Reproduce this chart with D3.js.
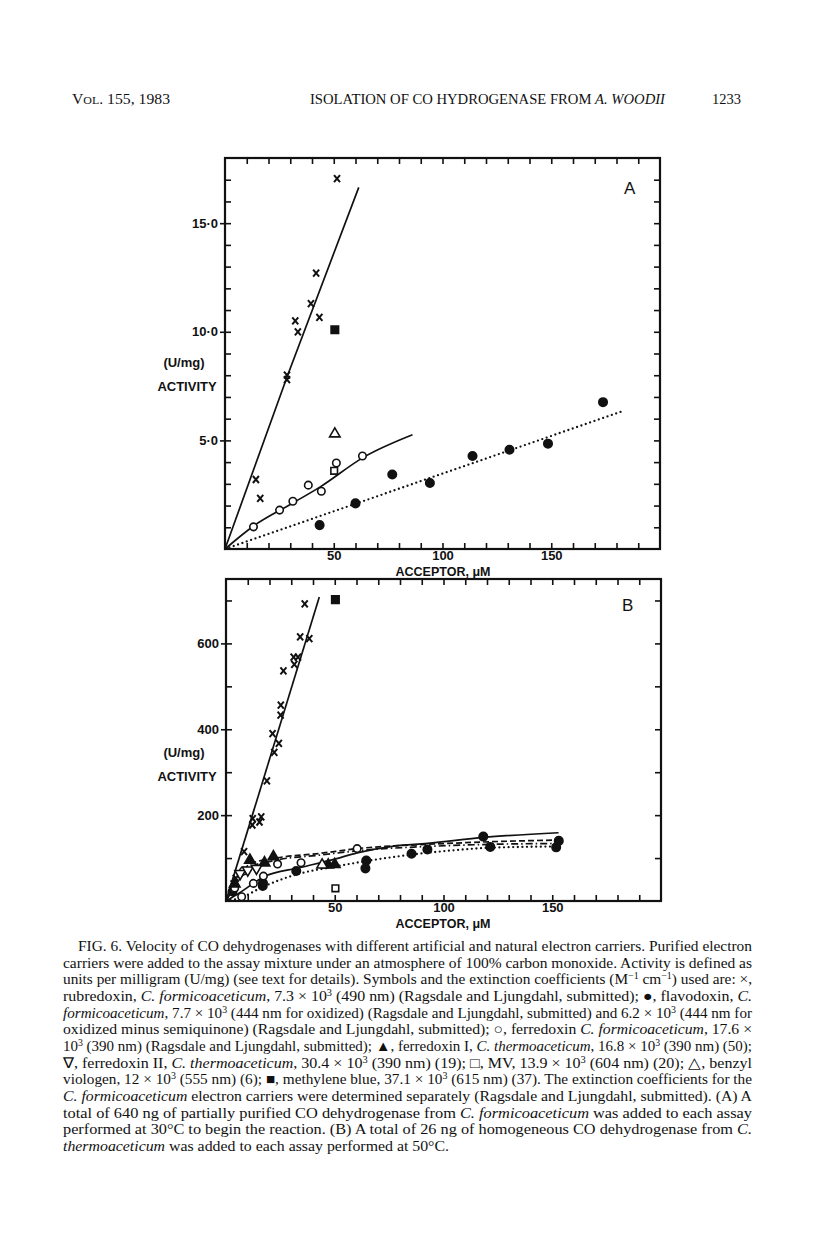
<!DOCTYPE html>
<html>
<head>
<meta charset="utf-8">
<script src="https://cdn.jsdelivr.net/npm/d3@7"></script>
<style>
  body { margin: 0; background: #fff; }
  text { fill: #111; }
</style>
</head>
<body>
<div id="fig"></div>
<script>
// ---------- data ----------
const xMinorTicks = d3.range(10, 200, 10);
const xTickValues = [50, 100, 150];
const xTickLabels = ["50", "100", "150"];

// panel A : U/mg
const yMinorTicksA = d3.range(1, 18, 1);
const yTickValuesA = [5, 10, 15];
const yTickLabelsA = ["5·0", "10·0", "15·0"];

const rubredoxinA = [[51.5, 17.05], [41.9, 12.7], [39.5, 11.3], [43.4, 10.66], [32.3, 10.5], [33.5, 10.0], [28.5, 8.0], [28.5, 7.8], [14.2, 3.2], [16.2, 2.33]];
const flavodoxinA = [[43.5, 1.1], [60, 2.1], [76.9, 3.43], [94.2, 3.04], [113.8, 4.28], [130.8, 4.57], [148.5, 4.85], [173.8, 6.76]];
const ferredoxinA = [[13.1, 1.02], [25.1, 1.79], [31.2, 2.2], [38.3, 2.94], [44.3, 2.66], [51.2, 3.96], [63.2, 4.28]];
const mvA = [[50.2, 3.6]];
const benzylA = [[50.5, 5.3]];
const methyleneA = [[50.5, 10.09]];

const rubLineA = [[0, 0], [28.8, 8.0], [61.5, 16.65]];
const ferLineA = [[0, 0], [13, 1.05], [30, 2.05], [43.8, 2.86], [63.8, 4.23], [86.2, 5.26]];
const flavLineA = [[0, 0], [183, 6.35]];

// panel B : U/mg
const yMinorTicksB = d3.range(100, 750, 100);
const yTickValuesB = [200, 400, 600];
const yTickLabelsB = ["200", "400", "600"];

const rubredoxinB = [[36.2, 692], [34.1, 615], [38.3, 611], [31.1, 568], [33.1, 568], [31.4, 551], [26.4, 536], [25.2, 456], [25.1, 433], [21.4, 390], [24.3, 367], [22.2, 346], [18.8, 280], [12.3, 192], [12.1, 177], [15.4, 184], [16.2, 196], [8.3, 115], [4.5, 53], [3.5, 40]];
const flavodoxinB = [[3, 22], [16.9, 35], [17, 42], [32.3, 70], [64.5, 94], [64.1, 76], [85.3, 110], [92.6, 120], [118.3, 150], [121.5, 126], [151.8, 125], [153, 140]];
const ferredoxinB = [[7.2, 10], [12.6, 41], [17.2, 58], [23.7, 86], [34.5, 89], [60.3, 122], [8, 70], [4, 30]];
const ferredoxinIB = [[4, 40], [11, 95], [17.7, 89], [21.8, 103], [47, 84], [50, 85]];
const ferredoxinIIB = [[6.5, 64], [10, 72], [14, 76]];
const benzylB = [[44.2, 84]];
const mvB = [[50.3, 29.5]];
const methyleneB = [[50.3, 702]];

const rubLineB = [[0, 0], [42.9, 708]];
const solidLineB = [[0, 0], [6.5, 20], [17.2, 56], [34.2, 78], [49.5, 97], [60.3, 112], [77.2, 128], [92.6, 134], [118.3, 148], [152.9, 159]];
const dashLineB = [[0, 0], [6.5, 60], [11, 86], [21.8, 99], [43.4, 111], [60.3, 122], [92.6, 132], [121.8, 138], [152.9, 142]];
const dashDotLineB = [[0, 0], [6.5, 52], [11, 78], [21.8, 94], [43.4, 107], [60.3, 117], [92.6, 127], [121.8, 132], [152.9, 134]];
const dotLineB = [[0, 0], [7, 8], [17, 33], [32.6, 62], [50, 80], [64.5, 93], [85.3, 108], [100, 116], [121.5, 124], [151.8, 127]];

// caption lines: [text, kind]  kind: "" plain, "i" italic, "s" superscript
const caption = [
  [["FIG. 6. Velocity of CO dehydrogenases with different artificial and natural electron carriers. Purified electron", ""]],
  [["carriers were added to the assay mixture under an atmosphere of 100% carbon monoxide. Activity is defined as", ""]],
  [["units per milligram (U/mg) (see text for details). Symbols and the extinction coefficients (M", ""], ["−1", "s"], [" cm", ""], ["−1", "s"], [") used are: ×,", ""]],
  [["rubredoxin, ", ""], ["C. formicoaceticum", "i"], [", 7.3 × 10", ""], ["3", "s"], [" (490 nm) (Ragsdale and Ljungdahl, submitted); ●, flavodoxin, ", ""], ["C.", "i"]],
  [["formicoaceticum", "i"], [", 7.7 × 10", ""], ["3", "s"], [" (444 nm for oxidized) (Ragsdale and Ljungdahl, submitted) and 6.2 × 10", ""], ["3", "s"], [" (444 nm for", ""]],
  [["oxidized minus semiquinone) (Ragsdale and Ljungdahl, submitted); ○, ferredoxin ", ""], ["C. formicoaceticum", "i"], [", 17.6 ×", ""]],
  [["10", ""], ["3", "s"], [" (390 nm) (Ragsdale and Ljungdahl, submitted); ▲, ferredoxin I, ", ""], ["C. thermoaceticum", "i"], [", 16.8 × 10", ""], ["3", "s"], [" (390 nm) (50);", ""]],
  [["∇, ferredoxin II, ", ""], ["C. thermoaceticum", "i"], [", 30.4 × 10", ""], ["3", "s"], [" (390 nm) (19); □, MV, 13.9 × 10", ""], ["3", "s"], [" (604 nm) (20); △, benzyl", ""]],
  [["viologen, 12 × 10", ""], ["3", "s"], [" (555 nm) (6); ■, methylene blue, 37.1 × 10", ""], ["3", "s"], [" (615 nm) (37). The extinction coefficients for the", ""]],
  [["C. formicoaceticum", "i"], [" electron carriers were determined separately (Ragsdale and Ljungdahl, submitted). (A) A", ""]],
  [["total of 640 ng of partially purified CO dehydrogenase from ", ""], ["C. formicoaceticum", "i"], [" was added to each assay", ""]],
  [["performed at 30°C to begin the reaction. (B) A total of 26 ng of homogeneous CO dehydrogenase from ", ""], ["C.", "i"]],
  [["thermoaceticum", "i"], [" was added to each assay performed at 50°C.", ""]]
];

// ---------- drawing ----------
const W = 816, H = 1233;
const svg = d3.select("#fig").append("svg").attr("width", W).attr("height", H);

const lab = "'Liberation Sans', Arial, sans-serif";
const serif = "'Liberation Serif', 'Times New Roman', serif";

// running head
const head = svg.append("g").attr("font-family", serif).attr("font-size", 14.5);
const vol = head.append("text").attr("x", 72).attr("y", 104).attr("textLength", 98).attr("lengthAdjust", "spacingAndGlyphs");
vol.append("tspan").text("V");
vol.append("tspan").attr("font-size", 11).text("OL");
vol.append("tspan").text(". 155, 1983");
const ttl = head.append("text").attr("x", 310).attr("y", 104).attr("textLength", 355).attr("lengthAdjust", "spacingAndGlyphs");
ttl.append("tspan").text("ISOLATION OF CO HYDROGENASE FROM ");
ttl.append("tspan").attr("font-style", "italic").text("A. WOODII");
head.append("text").attr("x", 712).attr("y", 104).attr("textLength", 29).attr("lengthAdjust", "spacingAndGlyphs").text("1233");

function symbolPath(kind) {
  if (kind === "x") return "M-3,-3.5L3,3.5M3,-3.5L-3,3.5";
  if (kind === "tri") return d3.symbol(d3.symbolTriangle, 48)();
  if (kind === "sq") return d3.symbol(d3.symbolSquare, 56)();
  if (kind === "osq") return d3.symbol(d3.symbolSquare, 44)();
  return d3.symbol(d3.symbolCircle, kind === "ocircle" ? 44 : 56)();
}

function drawPanel(cfg) {
  const g = svg.append("g");
  const x = d3.scaleLinear().domain([0, 200]).range([cfg.left, cfg.right]);
  const y = d3.scaleLinear().domain([0, cfg.ymax]).range([cfg.bottom, cfg.top]);

  const clean = a => a.select(".domain").remove();
  const tk = a => a.selectAll(".tick line").attr("stroke", "#111").attr("stroke-width", 1.6);

  // inward ticks on all four sides
  g.append("g").attr("transform", `translate(0,${cfg.bottom})`)
    .call(d3.axisBottom(x).tickValues(xMinorTicks).tickSize(-6).tickFormat("")).call(clean).call(tk);
  g.append("g").attr("transform", `translate(0,${cfg.top})`)
    .call(d3.axisTop(x).tickValues(xMinorTicks).tickSize(-6).tickFormat("")).call(clean).call(tk);
  g.append("g").attr("transform", `translate(${cfg.left},0)`)
    .call(d3.axisLeft(y).tickValues(cfg.yMinor).tickSize(-6).tickFormat("")).call(clean).call(tk);
  g.append("g").attr("transform", `translate(${cfg.right},0)`)
    .call(d3.axisRight(y).tickValues(cfg.yMinor).tickSize(-6).tickFormat("")).call(clean).call(tk);

  // labelled ticks
  const xa = g.append("g").attr("transform", `translate(0,${cfg.bottom})`)
    .call(d3.axisBottom(x).tickValues(xTickValues).tickSize(0).tickPadding(2)
      .tickFormat((d, i) => xTickLabels[i])).call(clean);
  xa.selectAll("text").attr("font-family", lab).attr("font-weight", "bold").attr("font-size", 13).attr("fill", "#111");

  const ya = g.append("g").attr("transform", `translate(${cfg.left},0)`)
    .call(d3.axisLeft(y).tickValues(cfg.yTicks).tickSize(5).tickPadding(2)
      .tickFormat((d, i) => cfg.yLabels[i])).call(clean).call(tk);
  ya.selectAll("text").attr("font-family", lab).attr("font-weight", "bold").attr("font-size", 13).attr("fill", "#111");

  // frame
  g.append("rect").attr("x", cfg.left).attr("y", cfg.top)
    .attr("width", cfg.right - cfg.left).attr("height", cfg.bottom - cfg.top)
    .attr("fill", "none").attr("stroke", "#111").attr("stroke-width", 2.2);

  // axis titles
  const t = g.append("g").attr("font-family", lab).attr("font-weight", "bold").attr("font-size", 13);
  t.append("text").attr("x", 443).attr("y", cfg.bottom + 27).attr("text-anchor", "middle")
    .attr("font-size", 12.5).text("ACCEPTOR, μM");
  t.append("text").attr("x", 184).attr("y", cfg.unitY).attr("text-anchor", "middle").text("(U/mg)");
  t.append("text").attr("x", 187).attr("y", cfg.unitY + 24).attr("text-anchor", "middle").text("ACTIVITY");
  t.append("text").attr("x", cfg.tagX).attr("y", cfg.tagY).attr("font-weight", "normal").attr("font-size", 17).text(cfg.tag);

  // curves
  const line = d3.line().x(d => x(d[0])).y(d => y(d[1])).curve(d3.curveMonotoneX);
  const dash = { solid: null, dot: "0,4.6", dash: "6,3", dashdot: "7,3,1.5,3" };
  cfg.lines.forEach(l => {
    g.append("path").attr("d", line(l.data)).attr("fill", "none").attr("stroke", "#111")
      .attr("stroke-width", l.style === "dot" ? 2.3 : 1.7)
      .attr("stroke-linecap", l.style === "dot" ? "round" : "butt")
      .attr("stroke-dasharray", dash[l.style]);
  });

  // markers
  cfg.marks.forEach(m => {
    g.append("g").selectAll("path").data(m.data).enter().append("path")
      .attr("transform", d => `translate(${x(d[0])},${y(d[1])})${m.rot ? " rotate(180)" : ""}`)
      .attr("d", symbolPath(m.shape))
      .attr("fill", m.fill ? "#111" : (m.shape === "x" ? "none" : "#fff"))
      .attr("stroke", "#111")
      .attr("stroke-width", m.shape === "x" ? 2 : 1.6);
  });
}

drawPanel({
  left: 225, right: 660, top: 158, bottom: 549, ymax: 18,
  yMinor: yMinorTicksA, yTicks: yTickValuesA, yLabels: yTickLabelsA,
  unitY: 367, tag: "A", tagX: 624, tagY: 194,
  lines: [
    { data: flavLineA, style: "dot" },
    { data: rubLineA, style: "solid" },
    { data: ferLineA, style: "solid" }
  ],
  marks: [
    { data: rubredoxinA, shape: "x" },
    { data: flavodoxinA, shape: "circle", fill: true },
    { data: ferredoxinA, shape: "ocircle" },
    { data: mvA, shape: "osq" },
    { data: benzylA, shape: "tri" },
    { data: methyleneA, shape: "sq", fill: true }
  ]
});

drawPanel({
  left: 226, right: 661, top: 579, bottom: 901, ymax: 750,
  yMinor: yMinorTicksB, yTicks: yTickValuesB, yLabels: yTickLabelsB,
  unitY: 757, tag: "B", tagX: 622, tagY: 611,
  lines: [
    { data: dotLineB, style: "dot" },
    { data: dashLineB, style: "dash" },
    { data: dashDotLineB, style: "dashdot" },
    { data: solidLineB, style: "solid" },
    { data: rubLineB, style: "solid" }
  ],
  marks: [
    { data: rubredoxinB, shape: "x" },
    { data: flavodoxinB, shape: "circle", fill: true },
    { data: ferredoxinB, shape: "ocircle" },
    { data: ferredoxinIB, shape: "tri", fill: true },
    { data: ferredoxinIIB, shape: "tri", rot: true },
    { data: benzylB, shape: "tri" },
    { data: mvB, shape: "osq" },
    { data: methyleneB, shape: "sq", fill: true }
  ]
});

// caption
const cap = svg.append("g").attr("font-family", serif).attr("font-size", 14.6);
caption.forEach((segs, i) => {
  const x0 = i === 0 ? 78 : 63;
  const last = i === caption.length - 1;
  const txt = cap.append("text").attr("x", x0).attr("y", 951 + i * 16.67)
    .attr("textLength", last ? 386 : 752 - x0).attr("lengthAdjust", "spacingAndGlyphs");
  let up = false;
  segs.forEach(([s, k]) => {
    const ts = txt.append("tspan").text(s);
    if (k === "i") ts.attr("font-style", "italic");
    if (k === "s") { ts.attr("font-size", 9.5).attr("dy", -5); up = true; }
    else if (up) { ts.attr("dy", 5); up = false; }
  });
});
</script>
</body>
</html>
